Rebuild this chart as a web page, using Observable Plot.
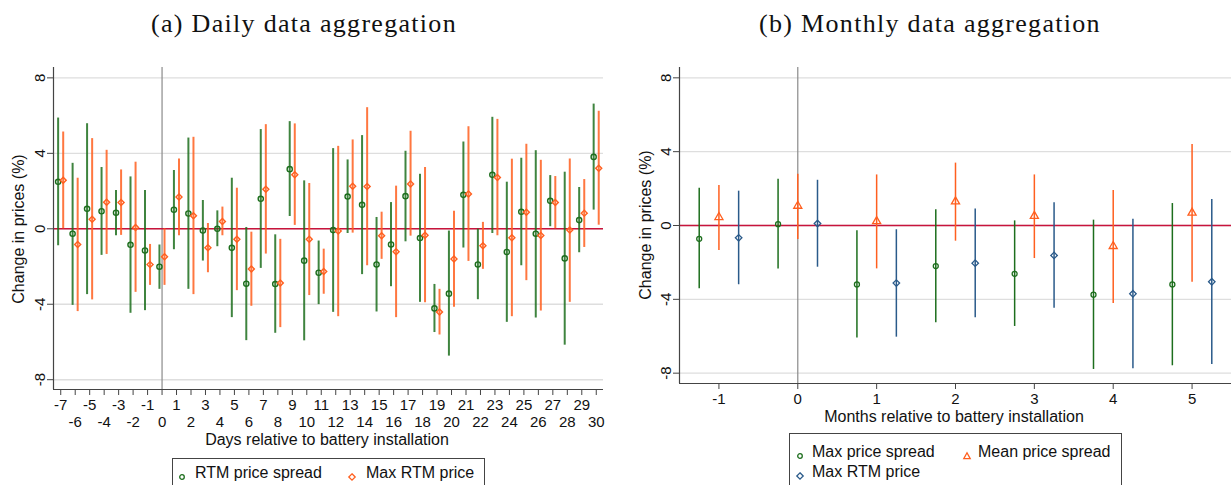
<!DOCTYPE html>
<html><head><meta charset="utf-8">
<script src="https://cdn.jsdelivr.net/npm/d3@7"></script>
<script src="https://cdn.jsdelivr.net/npm/@observablehq/plot@0.6"></script>
<style>
body{margin:0;background:#fff;}
#wrap{position:relative;width:1231px;height:485px;overflow:hidden;background:#fff;font-family:"Liberation Sans",Arial,sans-serif;color:#111;}
#wrap svg.plot{position:absolute;top:0;}
.title{position:absolute;top:24px;font-family:"Liberation Serif",serif;font-size:26px;letter-spacing:1.3px;white-space:nowrap;transform:translate(-50%,-50%);line-height:30px;}
.xlab{position:absolute;font-size:16px;white-space:nowrap;transform:translate(-50%,-50%);line-height:18px;}
.ylab{position:absolute;font-size:16px;white-space:nowrap;transform:translate(-50%,-50%) rotate(-90deg);line-height:18px;}
.legend{position:absolute;border:1px solid #444;background:#fff;font-size:16px;}
.item{position:absolute;white-space:nowrap;transform:translateY(-50%);line-height:18px;}
.sym{position:absolute;transform:translate(-50%,-50%);height:10px;}
</style>
</head><body>
<div id="wrap"></div>
<script>
// ---------- Panel (a): daily ----------
const days = [-7,-6,-5,-4,-3,-2,-1,0,1,2,3,4,5,6,7,8,9,10,11,12,13,14,15,16,17,18,19,20,21,22,23,24,25,26,27,28,29,30];
const spreadEst = [2.49,-0.26,1.06,0.93,0.85,-0.85,-1.15,-2.01,1.01,0.81,-0.09,0.00,-1.01,-2.91,1.59,-2.93,3.16,-1.69,-2.33,-0.07,1.71,1.27,-1.89,-0.83,1.73,-0.49,-4.22,-3.44,1.80,-1.89,2.86,-1.23,0.90,-0.26,1.48,-1.57,0.46,3.81];
const spreadLo  = [-0.90,-4.06,-3.49,-1.41,-0.37,-4.48,-4.34,-3.21,-1.11,-3.21,-1.71,-0.95,-4.71,-5.93,-2.10,-5.54,0.65,-5.94,-4.02,-4.43,-0.25,-2.43,-4.41,-3.07,-0.69,-3.90,-5.50,-6.75,-1.02,-3.76,-0.25,-4.96,-1.96,-4.73,0.11,-6.17,-1.27,0.99];
const spreadHi  = [5.87,3.47,5.57,3.25,2.03,2.75,2.03,-0.86,3.09,4.81,1.50,0.95,2.68,0.07,5.26,-0.32,5.68,2.54,-0.65,4.25,3.65,4.94,0.60,1.39,4.11,2.89,-2.95,-0.12,4.60,-0.02,5.91,2.47,3.74,4.14,2.82,3.00,2.19,6.61];
const maxPriceEst = [2.57,-0.83,0.51,1.41,1.39,0.07,-1.90,-1.48,1.69,0.69,-1.01,0.39,-0.55,-2.13,2.10,-2.87,2.87,-0.56,-2.26,-0.12,2.26,2.24,-0.37,-1.22,2.38,-0.34,-4.41,-1.60,1.85,-0.90,2.72,-0.48,0.88,-0.35,1.39,-0.07,0.83,3.21];
const maxPriceLo  = [0.00,-4.39,-3.77,-1.36,-0.35,-3.37,-3.00,-3.00,-0.37,-3.49,-2.33,-0.37,-3.28,-4.11,-1.34,-5.24,0.18,-3.54,-3.47,-4.66,-0.23,-1.96,-1.62,-4.71,-0.39,-3.92,-5.63,-4.16,-1.73,-2.15,-0.37,-4.66,-2.75,-4.36,0.00,-3.90,-0.99,0.19];
const maxPriceHi  = [5.13,2.68,4.78,4.16,3.12,3.53,-0.83,0.00,3.70,4.85,0.28,1.15,2.15,-0.18,5.52,-0.56,5.56,2.40,-1.08,4.37,4.71,6.42,0.88,2.26,5.17,3.25,-3.21,0.93,5.41,0.34,5.80,3.69,4.48,3.63,2.77,3.70,2.61,6.23];

// ---------- Panel (b): monthly ----------
const months = [-1,0,1,2,3,4,5];
const mSpreadEst = [-0.72,0.07,-3.19,-2.20,-2.62,-3.75,-3.19];
const mSpreadLo  = [-3.43,-2.35,-6.10,-5.27,-5.47,-7.80,-7.60];
const mSpreadHi  = [2.02,2.51,-0.29,0.85,0.25,0.29,1.19];
const mMeanEst = [0.45,1.06,0.23,1.30,0.51,-1.12,0.69];
const mMeanLo  = [-1.35,-0.76,-2.35,-0.85,-1.79,-4.22,-3.07];
const mMeanHi  = [2.17,2.78,2.74,3.38,2.74,1.90,4.39];
const mMaxEst = [-0.67,0.11,-3.12,-2.04,-1.62,-3.70,-3.05];
const mMaxLo  = [-3.21,-2.26,-6.05,-5.00,-4.48,-7.76,-7.53];
const mMaxHi  = [1.86,2.45,-0.23,0.90,1.23,0.34,1.41];

const yTicks = [-8,-4,0,4,8];
const dayTicksOdd = days.filter(d => Math.abs(d) % 2 === 1);
const dayTicksEven = days.filter(d => d % 2 === 0);
const monthTicks = months;
const fmt = d => String(d);

const GREEN = "#1d6e1d", ORANGE = "#ff5f1f", BLUE = "#2a5a8a", RED = "#c8143c";
const font = {fontFamily: "Liberation Sans, Arial, sans-serif", fontSize: "15px", color: "#111", background: "white", overflow: "visible"};

function rows(xs, est, lo, hi, off) {
  return xs.map((x, i) => ({x: x + off, est: est[i], lo: lo[i], hi: hi[i]}));
}

const wrap = document.getElementById("wrap");

// Left panel
const xDomA = [-7.5, 30.5], yDomA = [-8.52, 8.55];
const dSpread = rows(days, spreadEst, spreadLo, spreadHi, -0.18);
const dMax = rows(days, maxPriceEst, maxPriceLo, maxPriceHi, 0.17);
const left = Plot.plot({
  width: 615, height: 445, marginLeft: 53, marginRight: 12, marginTop: 67, marginBottom: 56,
  x: {domain: xDomA}, y: {domain: yDomA},
  style: font,
  marks: [
    Plot.gridY(yTicks, {stroke: "#dedede", strokeOpacity: 1, strokeWidth: 1.4}),
    Plot.ruleX([0], {stroke: "#8a8a8a", strokeWidth: 1.2}),
    Plot.ruleY([0], {stroke: RED, strokeWidth: 1.6}),
    Plot.ruleX(dSpread, {x: "x", y1: "lo", y2: "hi", stroke: GREEN, strokeWidth: 2, strokeOpacity: 0.85}),
    Plot.ruleX(dMax, {x: "x", y1: "lo", y2: "hi", stroke: ORANGE, strokeWidth: 2, strokeOpacity: 0.85}),
    Plot.dot(dSpread, {x: "x", y: "est", r: 2.6, stroke: GREEN, strokeWidth: 1.4, fill: "none"}),
    Plot.dot(dMax, {x: "x", y: "est", symbol: "square", rotate: 45, r: 2.4, stroke: ORANGE, strokeWidth: 1.4, fill: "none"}),
    Plot.axisY(yTicks, {tickRotate: -90, tickSize: 6, tickPadding: 3, tickFormat: fmt, label: null, stroke: "#444"}),
    Plot.axisX(dayTicksOdd, {tickSize: 6, tickPadding: 4, tickFormat: fmt, label: null, stroke: "#444"}),
    Plot.axisX(dayTicksEven, {tickSize: 6, tickPadding: 21, tickFormat: fmt, label: null, stroke: "#444"}),
    Plot.ruleX([xDomA[0]], {stroke: "#444", strokeWidth: 1.2}),
    Plot.ruleY([yDomA[0]], {stroke: "#444", strokeWidth: 1.2})
  ]
});
left.classList.add("plot");
left.style.left = "0px";
wrap.appendChild(left);

// Right panel
const xDomB = [-1.5, 5.5], yDomB = [-8.56, 8.56];
const mS = rows(months, mSpreadEst, mSpreadLo, mSpreadHi, -0.25);
const mM = rows(months, mMeanEst, mMeanLo, mMeanHi, 0);
const mX = rows(months, mMaxEst, mMaxLo, mMaxHi, 0.25);
const right = Plot.plot({
  width: 611, height: 420, marginLeft: 59, marginRight: 0, marginTop: 67, marginBottom: 37,
  x: {domain: xDomB}, y: {domain: yDomB},
  style: font,
  marks: [
    Plot.gridY(yTicks, {stroke: "#dedede", strokeOpacity: 1, strokeWidth: 1.4}),
    Plot.ruleX([0], {stroke: "#8a8a8a", strokeWidth: 1.2}),
    Plot.ruleY([0], {stroke: RED, strokeWidth: 1.6}),
    Plot.ruleX(mS, {x: "x", y1: "lo", y2: "hi", stroke: GREEN, strokeWidth: 1.5}),
    Plot.ruleX(mM, {x: "x", y1: "lo", y2: "hi", stroke: ORANGE, strokeWidth: 1.5}),
    Plot.ruleX(mX, {x: "x", y1: "lo", y2: "hi", stroke: BLUE, strokeWidth: 1.5}),
    Plot.dot(mS, {x: "x", y: "est", r: 2.5, stroke: GREEN, strokeWidth: 1.3, fill: "none"}),
    Plot.dot(mM, {x: "x", y: "est", symbol: "triangle", r: 3, stroke: ORANGE, strokeWidth: 1.3, fill: "none"}),
    Plot.dot(mX, {x: "x", y: "est", symbol: "square", rotate: 45, r: 2.6, stroke: BLUE, strokeWidth: 1.3, fill: "none"}),
    Plot.axisY(yTicks, {tickRotate: -90, tickSize: 6, tickPadding: 3, tickFormat: fmt, label: null, stroke: "#444"}),
    Plot.axisX(monthTicks, {tickSize: 6, tickPadding: 4, tickFormat: fmt, label: null, stroke: "#444"}),
    Plot.ruleX([xDomB[0]], {stroke: "#444", strokeWidth: 1.2}),
    Plot.ruleY([yDomB[0]], {stroke: "#444", strokeWidth: 1.2})
  ]
});
right.classList.add("plot");
right.style.left = "620px";
wrap.appendChild(right);

// Text and legends
function addDiv(cls, text, css) {
  const d = document.createElement("div");
  d.className = cls; d.textContent = text;
  Object.assign(d.style, css);
  wrap.appendChild(d);
  return d;
}
addDiv("title", "(a) Daily data aggregation", {left: "304px"});
addDiv("title", "(b) Monthly data aggregation", {left: "930px"});
addDiv("xlab", "Days relative to battery installation", {left: "327px", top: "440px"});
addDiv("xlab", "Months relative to battery installation", {left: "954px", top: "417px"});
addDiv("ylab", "Change in prices (%)", {left: "19px", top: "229px"});
addDiv("ylab", "Change in prices (%)", {left: "646px", top: "225px"});

function symbolSvg(kind, color) {
  let inner = "";
  if (kind === "circle") inner = `<circle cx="5" cy="5" r="2.3" fill="none" stroke="${color}" stroke-width="1.3"/>`;
  if (kind === "diamond") inner = `<path d="M5 1.8 L8.2 5 L5 8.2 L1.8 5 Z" fill="none" stroke="${color}" stroke-width="1.3"/>`;
  if (kind === "triangle") inner = `<path d="M5 1.8 L8.2 7.6 L1.8 7.6 Z" fill="none" stroke="${color}" stroke-width="1.3"/>`;
  return `<svg width="10" height="10">${inner}</svg>`;
}
function legend(box, items) {
  const L = document.createElement("div");
  L.className = "legend";
  Object.assign(L.style, box);
  for (const it of items) {
    const s = document.createElement("div");
    s.className = "sym"; s.style.left = it.sx + "px"; s.style.top = it.y + "px";
    s.innerHTML = symbolSvg(it.kind, it.color);
    L.appendChild(s);
    const t = document.createElement("div");
    t.className = "item"; t.style.left = it.tx + "px"; t.style.top = it.y + "px";
    t.textContent = it.label;
    L.appendChild(t);
  }
  wrap.appendChild(L);
}
legend({left: "172px", top: "458px", width: "311px", height: "45px"}, [
  {kind: "circle", color: GREEN, sx: 9, tx: 22, y: 14, label: "RTM price spread"},
  {kind: "diamond", color: ORANGE, sx: 179, tx: 193, y: 14, label: "Max RTM price"}
]);
legend({left: "789px", top: "433px", width: "331px", height: "60px"}, [
  {kind: "circle", color: GREEN, sx: 10, tx: 22, y: 18, label: "Max price spread"},
  {kind: "triangle", color: ORANGE, sx: 177, tx: 188, y: 18, label: "Mean price spread"},
  {kind: "diamond", color: BLUE, sx: 10, tx: 22, y: 38, label: "Max RTM price"}
]);
</script>
</body></html>
